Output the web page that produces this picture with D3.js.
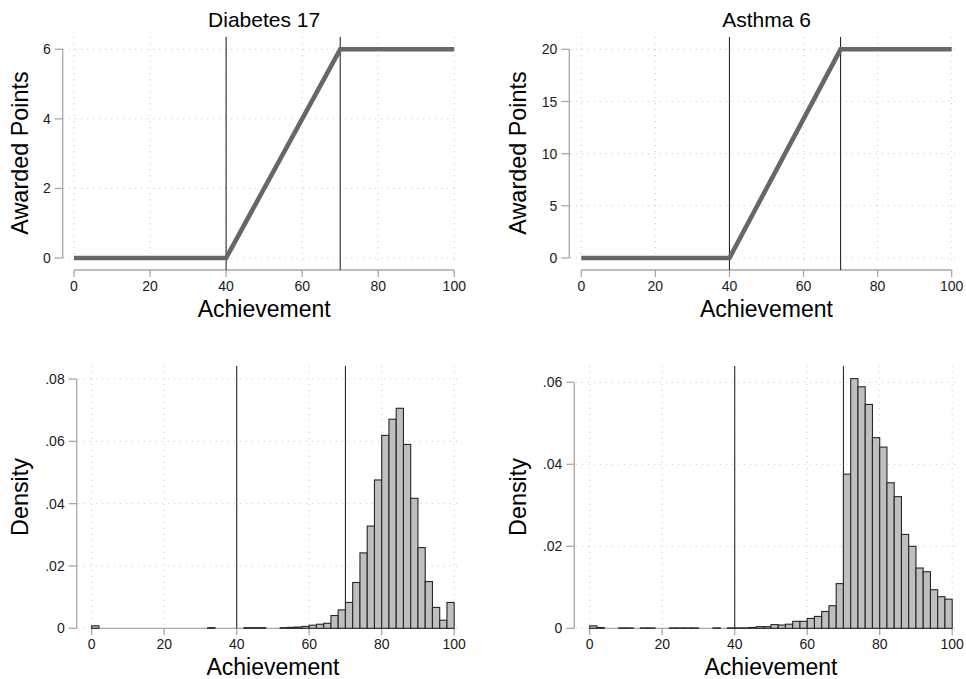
<!DOCTYPE html>
<html>
<head>
<script src="https://d3js.org/d3.v7.min.js" charset="utf-8"></script>
<style>
    body { margin: 0; background: #fff; }
    svg { font-family: "Liberation Sans", Arial, sans-serif; }
</style>
</head>
<body>
<script>
    // points schedule (achievement -> awarded points)
    var stepAchievement = [0, 40, 70, 100];
    var diabetesPoints = [0, 0, 6, 6];
    var asthmaPoints = [0, 0, 20, 20];
    var thresholds = [40, 70];

    var xTicks = [0, 20, 40, 60, 80, 100];
    var diabetesPointTicks = [0, 2, 4, 6];
    var asthmaPointTicks = [0, 5, 10, 15, 20];
    var diabetesDensityTicks = [0, .02, .04, .06, .08];
    var asthmaDensityTicks = [0, .02, .04, .06];

    // histograms, bin width 2
    var binWidth = 2;
    var diabetesBinStart = [0, 32, 42, 44, 46, 52, 54, 56, 58, 60, 62, 64, 66, 68, 70, 72, 74, 76, 78, 80, 82, 84, 86, 88, 90, 92, 94, 96, 98];
    var diabetesDensity  = [.0008, .0002, .0002, .0002, .0002, .0002, .0003, .0004, .0006, .0010, .0013, .0016, .0041, .0059, .0083, .0147, .0242, .0328, .0476, .0619, .0671, .0706, .0590, .0417, .0259, .0150, .0067, .0026, .0083];
    var asthmaBinStart = [0, 2, 8, 10, 14, 16, 22, 24, 26, 28, 34, 38, 40, 42, 44, 46, 48, 50, 52, 54, 56, 58, 60, 62, 64, 66, 68, 70, 72, 74, 76, 78, 80, 82, 84, 86, 88, 90, 92, 94, 96, 98];
    var asthmaDensity  = [.0006, .0002, .0001, .0001, .0001, .0001, .0001, .0001, .0001, .0001, .0001, .0001, .0001, .0001, .0002, .0004, .0004, .0009, .0008, .0010, .0017, .0017, .0024, .0029, .0041, .0055, .0109, .0376, .0609, .0589, .0546, .0465, .0442, .0355, .0321, .0229, .0200, .0147, .0138, .0094, .0077, .0071];

    var w = 966, h = 679;
    var svg = d3.select("body").append("svg").attr("width", w).attr("height", h);

    var axisColor = "#a8a8a8";
    var gridColor = "#c8c8c8";

    function densityFmt(d) {
        return d === 0 ? "0" : d3.format(".2f")(d).replace(/^0/, "");
    }

    function panel(o) {
        var g = svg.append("g");
        var x = d3.scaleLinear().domain([0, 100]).range(o.xRange);
        var y = d3.scaleLinear().domain([0, o.yMax]).range(o.yRange);

        // grid
        g.selectAll(".vg").data(xTicks).enter().append("line")
            .attr("x1", d => x(d)).attr("x2", d => x(d))
            .attr("y1", o.top).attr("y2", o.bottom)
            .attr("stroke", gridColor).attr("stroke-width", 1).attr("stroke-dasharray", "1,5");
        g.selectAll(".hg").data(o.yTicks).enter().append("line")
            .attr("x1", o.left).attr("x2", o.right)
            .attr("y1", d => y(d)).attr("y2", d => y(d))
            .attr("stroke", gridColor).attr("stroke-width", 1).attr("stroke-dasharray", "1,5");

        // y axis
        g.append("line").attr("x1", o.yAxisX).attr("x2", o.yAxisX)
            .attr("y1", y(0)).attr("y2", y(o.yMax))
            .attr("stroke", axisColor).attr("stroke-width", 1.3);
        g.selectAll(".yt").data(o.yTicks).enter().append("line")
            .attr("x1", o.yAxisX - 8).attr("x2", o.yAxisX)
            .attr("y1", d => y(d)).attr("y2", d => y(d))
            .attr("stroke", axisColor).attr("stroke-width", 1.3);
        g.selectAll(".yl").data(o.yTicks).enter().append("text")
            .attr("x", o.yAxisX - 12).attr("y", d => y(d))
            .attr("dy", "0.36em")
            .attr("text-anchor", "end").attr("font-size", 14).attr("fill", "#1a1a1a")
            .text(o.yFmt);

        // x axis
        g.append("line").attr("x1", x(0)).attr("x2", x(100))
            .attr("y1", o.xAxisY).attr("y2", o.xAxisY)
            .attr("stroke", axisColor).attr("stroke-width", 1.3);
        g.selectAll(".xt").data(xTicks).enter().append("line")
            .attr("x1", d => x(d)).attr("x2", d => x(d))
            .attr("y1", o.xAxisY).attr("y2", o.xAxisY + 7)
            .attr("stroke", axisColor).attr("stroke-width", 1.3);
        g.selectAll(".xl").data(xTicks).enter().append("text")
            .attr("x", d => x(d)).attr("y", o.xAxisY + o.xLabelGap)
            .attr("text-anchor", "middle").attr("font-size", 14).attr("fill", "#1a1a1a")
            .text(d => d);

        // titles
        g.append("text").attr("x", (x(0) + x(100)) / 2).attr("y", o.xTitleY)
            .attr("text-anchor", "middle").attr("font-size", 23).attr("fill", "#000")
            .text("Achievement");
        g.append("text")
            .attr("transform", "translate(" + o.yTitleX + "," + o.yTitleY + ") rotate(-90)")
            .attr("text-anchor", "middle").attr("dy", "0.35em")
            .attr("font-size", 23.4).attr("fill", "#000")
            .text(o.yTitle);
        if (o.title) {
            g.append("text").attr("x", (x(0) + x(100)) / 2).attr("y", 27)
                .attr("text-anchor", "middle").attr("font-size", 21).attr("fill", "#000")
                .text(o.title);
        }

        // histogram bars
        if (o.binStart) {
            var bins = o.binStart.map((s, i) => ({ s: s, d: o.density[i] }));
            g.selectAll(".bar").data(bins).enter().append("rect")
                .attr("x", d => x(d.s))
                .attr("width", d => x(d.s + binWidth) - x(d.s))
                .attr("y", d => y(d.d))
                .attr("height", d => y(0) - y(d.d))
                .attr("fill", "#bfbfbf")
                .attr("stroke", "#262626").attr("stroke-width", 1.1);
        }

        // threshold lines
        g.selectAll(".ref").data(thresholds).enter().append("line")
            .attr("x1", d => x(d)).attr("x2", d => x(d))
            .attr("y1", o.top).attr("y2", o.refBottom)
            .attr("stroke", "#2a2a2a").attr("stroke-width", 1.1);

        // points schedule
        if (o.points) {
            var line = d3.line().x((d, i) => x(stepAchievement[i])).y(d => y(d));
            g.append("path").datum(o.points).attr("d", line)
                .attr("fill", "none").attr("stroke", "#676767").attr("stroke-width", 4.6);
        }
    }

    panel({
        title: "Diabetes 17", yTitle: "Awarded Points", points: diabetesPoints,
        xRange: [74, 454.3], yRange: [258, 49.3], yMax: 6, yTicks: diabetesPointTicks, yFmt: d => d,
        top: 37, bottom: 264, left: 63, right: 458, refBottom: 270,
        yAxisX: 62.7, xAxisY: 270, xLabelGap: 21, xTitleY: 316.5, yTitleX: 20, yTitleY: 153
    });
    panel({
        title: "Asthma 6", yTitle: "Awarded Points", points: asthmaPoints,
        xRange: [581.3, 951.7], yRange: [258, 49.3], yMax: 20, yTicks: asthmaPointTicks, yFmt: d => d,
        top: 37, bottom: 264, left: 570, right: 956, refBottom: 270,
        yAxisX: 569.3, xAxisY: 270, xLabelGap: 21, xTitleY: 316.5, yTitleX: 517.5, yTitleY: 153
    });
    panel({
        yTitle: "Density", binStart: diabetesBinStart, density: diabetesDensity,
        xRange: [91.7, 454.2], yRange: [628.3, 379], yMax: .08, yTicks: diabetesDensityTicks, yFmt: densityFmt,
        top: 366, bottom: 628, left: 78, right: 458, refBottom: 628.3,
        yAxisX: 76.7, xAxisY: 628.3, xLabelGap: 20.3, xTitleY: 674.5, yTitleX: 20, yTitleY: 497
    });
    panel({
        yTitle: "Density", binStart: asthmaBinStart, density: asthmaDensity,
        xRange: [589.7, 952.2], yRange: [628.3, 382.3], yMax: .06, yTicks: asthmaDensityTicks, yFmt: densityFmt,
        top: 366, bottom: 628, left: 576, right: 956, refBottom: 628.3,
        yAxisX: 574.3, xAxisY: 628.3, xLabelGap: 20.3, xTitleY: 674.5, yTitleX: 517.5, yTitleY: 497
    });
</script>
</body>
</html>
